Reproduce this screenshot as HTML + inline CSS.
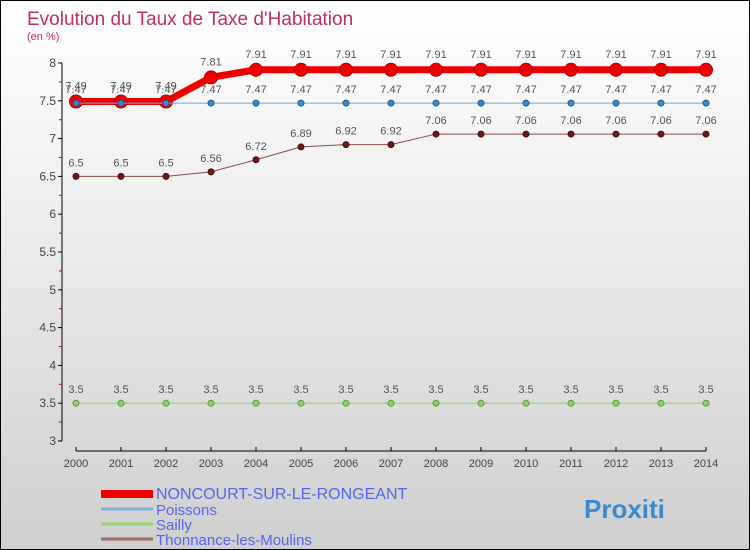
<!DOCTYPE html>
<html><head><meta charset="utf-8"><style>
body{margin:0}
#c{width:750px;height:550px;position:relative;box-sizing:border-box;border:1px solid #000;background:linear-gradient(#fff 0%,#f2f2f2 30%,#cfcfcf 100%);font-family:"Liberation Sans",sans-serif;overflow:hidden}
</style></head><body>
<div id="c">
<svg id="s" width="750" height="550" style="position:absolute;left:0;top:0"></svg>
</div>
<script>
const years=[2000,2001,2002,2003,2004,2005,2006,2007,2008,2009,2010,2011,2012,2013,2014];
const noncourt=[7.49,7.49,7.49,7.81,7.91,7.91,7.91,7.91,7.91,7.91,7.91,7.91,7.91,7.91,7.91];
const poissons=[7.47,7.47,7.47,7.47,7.47,7.47,7.47,7.47,7.47,7.47,7.47,7.47,7.47,7.47,7.47];
const sailly=[3.5,3.5,3.5,3.5,3.5,3.5,3.5,3.5,3.5,3.5,3.5,3.5,3.5,3.5,3.5];
const thonnance=[6.5,6.5,6.5,6.56,6.72,6.89,6.92,6.92,7.06,7.06,7.06,7.06,7.06,7.06,7.06];
const yTicks=[3,3.5,4,4.5,5,5.5,6,6.5,7,7.5,8];
const seriesNames=["NONCOURT-SUR-LE-RONGEANT","Poissons","Sailly","Thonnance-les-Moulins"];

const NS="http://www.w3.org/2000/svg";
const s=document.getElementById('s');
const X=i=>75+i*45;
const Y=v=>62+(8-v)*75.6;
function mk(t,a,p){const e=document.createElementNS(NS,t);for(const k in a)e.setAttribute(k,a[k]);(p||s).appendChild(e);return e;}
function tx(x,y,str,a){const e=mk('text',Object.assign({x:x,y:y},a));e.textContent=str;return e;}

let t=tx(26,24,"Evolution du Taux de Taxe d'Habitation",{fill:'#c0305a','font-size':19});

t=tx(26,39,"(en %)",{fill:'#c0305a','font-size':11});


// axes
let ax=mk('line',{x1:61,y1:62,x2:61,y2:440,stroke:'#000'});

ax=mk('line',{x1:75,y1:450,x2:705,y2:450,stroke:'#000'});

yTicks.forEach((v,i)=>{
  const maj=(v%1===0)||(v%1===0.5);
  mk('line',{x1:57,y1:Y(v),x2:61,y2:Y(v),stroke:'#000'});
  if(i<yTicks.length-1) mk('line',{x1:58,y1:Y(v+0.25),x2:61,y2:Y(v+0.25),stroke:'#c00'});
  const l=tx(55,Y(v)+4,String(v),{fill:'#444','font-size':12,'text-anchor':'end'});
  
});
years.forEach((yr,i)=>{
  mk('line',{x1:X(i),y1:446,x2:X(i),y2:450,stroke:'#000'});
  const l=tx(X(i),466,String(yr),{fill:'#444','font-size':11,'text-anchor':'middle'});
  
});

function series(vals,name,color,w,r,dot,dotStroke,labelDy){
  const g=mk('g',{});
  
  mk('polyline',{points:vals.map((v,i)=>X(i)+','+Y(v)).join(' '),fill:'none',stroke:color,'stroke-width':w},g);
  vals.forEach((v,i)=>{
    const c=mk('circle',{cx:X(i),cy:Y(v),r:r,fill:dot,stroke:dotStroke,'stroke-width':1},g);
    
    const l=tx(X(i),Y(v)+labelDy,String(v),{fill:'#555','font-size':11,'text-anchor':'middle'},g);
  });
}
series(thonnance,'series-thonnance','#8b4a4a',1,3,'#6b1a1a','#4a1010',-10);
series(sailly,'series-sailly','#8fd16a',1,3,'#8fd16a','#5a9a3a',-10);
series(noncourt,'series-noncourt','#ee0000',7,6.5,'#ee0000','#b00000',-12);
series(poissons,'series-poissons','#6aaae0',1,3,'#3a8ad0','#1a5a90',-10);

const lc=['#ee0000','#80b0d8','#90d870','#a06868'];
const lw=[8,3,3,3];
seriesNames.forEach((n,i)=>{
  const y=[492,508,523,538][i];
  const g=mk('g',{});
  
  mk('line',{x1:100,y1:y+(i==0?1:0),x2:152,y2:y+(i==0?1:0),stroke:lc[i],'stroke-width':lw[i]},g);
  tx(155,y+6,n,{fill:'#5566ee','font-size':i==0?16:15},g);
});
const lg=tx(583,517,"Proxiti",{fill:'#3a8ad0','font-size':26,'font-weight':'bold'});

</script>
</body></html>
